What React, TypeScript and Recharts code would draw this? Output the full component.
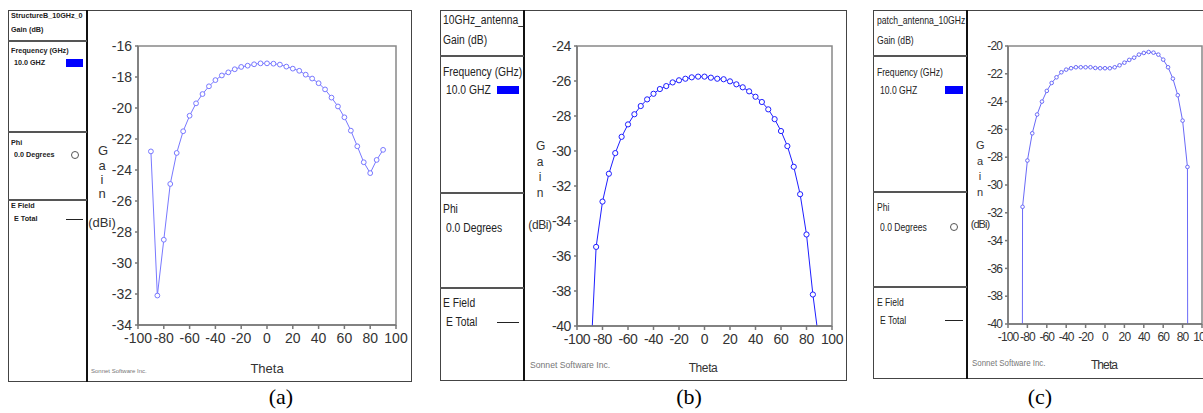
import React from 'react';
import { LineChart, Line, XAxis, YAxis, ReferenceArea } from 'recharts';

// theta sweep shared by all three cuts (degrees)
const theta = [
  -90, -85, -80, -75, -70, -65, -60, -55, -50, -45, -40, -35, -30, -25, -20, -15, -10, -5,
  0, 5, 10, 15, 20, 25, 30, 35, 40, 45, 50, 55, 60, 65, 70, 75, 80, 85, 90
];

// (a) StructureB gain, dBi
const gainA = [
  -22.8, -32.1, -28.5, -24.9, -22.9, -21.5, -20.5, -19.7, -19.1, -18.6, -18.2, -17.9, -17.7,
  -17.5, -17.35, -17.27, -17.18, -17.12, -17.12, -17.14, -17.2, -17.33, -17.46, -17.6, -17.85,
  -18.1, -18.4, -18.8, -19.33, -19.9, -20.6, -21.46, -22.47, -23.5, -24.2, -23.35, -22.7
];

// (b) 10GHz_antenna gain, dBi
const gainB = [
  -43, -35.48, -32.89, -31.3, -30.12, -29.19, -28.48, -27.9, -27.43, -27.05, -26.73, -26.46,
  -26.29, -26.08, -25.96, -25.87, -25.79, -25.75, -25.75, -25.81, -25.87, -25.9, -26.02, -26.19,
  -26.36, -26.59, -26.9, -27.2, -27.62, -28.18, -28.86, -29.72, -30.9, -32.47, -34.77, -38.2, -41
];

// (c) patch_antenna gain, dBi (endpoints fall far off the bottom)
const gainC = [
  -300, -31.57, -28.24, -26.28, -24.93, -24.0, -23.23, -22.66, -22.25, -21.89, -21.7, -21.6,
  -21.53, -21.53, -21.53, -21.53, -21.58, -21.6, -21.6, -21.6, -21.53, -21.39, -21.2, -21.0,
  -20.84, -20.62, -20.5, -20.43, -20.48, -20.62, -20.98, -21.53, -22.35, -23.54, -25.37, -28.7, -300
];

const thetaTicks = [-100, -80, -60, -40, -20, 0, 20, 40, 60, 80, 100];
const ticksA = [-34, -32, -30, -28, -26, -24, -22, -20, -18, -16];
const ticksB = [-40, -38, -36, -34, -32, -30, -28, -26, -24];
const ticksC = [-40, -38, -36, -34, -32, -30, -28, -26, -24, -22, -20];

const titles = ['StructureB_10GHz_0', '10GHz_antenna_', 'patch_antenna_10GHz'];
const captions = ['(a)', '(b)', '(c)'];

const SANS = '"Liberation Sans", Arial, sans-serif';

type Box = { l: number; t: number; r: number; b: number };

type PanelProps = {
  frame: Box;
  divider: number;
  hlines: number[];
  plot: Box;
  title: string;
  values: number[];
  yTicks: number[];
  color: string;
  dotR: number;
  tickFont: number;
  tickSpacing: number;
  legendFont: number;
  legendScale: number;
  legendBold: boolean;
  legendRows: number[]; // y of: title, gain, freq, 10GHz, phi, deg, efield, etotal
  legendX: number;
  swatchX: number;
  swatchW: number;
  phiCircle: boolean;
  ylabel: { x: number; ys: number[]; dbi: number; size: number };
  thetaPos: { x: number; y: number; size: number };
  sonnet: { x: number; y: number; size: number };
};

const T = (x: number, y: number, size: number, text: string, style: React.CSSProperties = {}) => (
  <div
    style={{
      position: 'absolute',
      left: x,
      top: y - size / 2,
      fontSize: size,
      lineHeight: `${size}px`,
      whiteSpace: 'nowrap',
      ...style
    }}
  >
    {text}
  </div>
);

const Panel = (p: PanelProps) => {
  const data = theta.map((t, i) => ({ theta: t, gain: p.values[i] }));
  const chartLeft = p.divider + 1;
  const chartTop = p.frame.t + 1;
  const chartW = p.frame.r - chartLeft;
  const chartH = p.frame.b - chartTop;
  const xH = 30;
  const lf: React.CSSProperties = {
    fontFamily: SANS,
    fontWeight: p.legendBold ? 700 : 400,
    color: '#222',
    transform: `scaleX(${p.legendScale})`,
    transformOrigin: 'left center'
  };
  const rows = p.legendRows;
  const lx = p.legendX - p.frame.l;
  const tickStyle = {
    fill: '#333',
    fontSize: p.tickFont,
    fontFamily: SANS,
    letterSpacing: p.tickSpacing
  };

  return (
    <>
      {/* outer frame */}
      <div
        style={{
          position: 'absolute',
          left: p.frame.l,
          top: p.frame.t,
          width: p.frame.r - p.frame.l,
          height: p.frame.b - p.frame.t,
          border: '1px solid #444',
          boxSizing: 'border-box'
        }}
      />
      {/* legend column */}
      <div
        style={{
          position: 'absolute',
          left: p.frame.l,
          top: p.frame.t,
          width: p.divider - p.frame.l,
          height: p.frame.b - p.frame.t,
          overflow: 'hidden'
        }}
      >
        {T(lx, rows[0] - p.frame.t, p.legendFont, p.title, lf)}
        {T(lx, rows[1] - p.frame.t, p.legendFont, 'Gain (dB)', lf)}
        {T(lx, rows[2] - p.frame.t, p.legendFont, 'Frequency (GHz)', lf)}
        {T(lx + 3, rows[3] - p.frame.t, p.legendFont, '10.0 GHZ', lf)}
        {T(lx, rows[4] - p.frame.t, p.legendFont, 'Phi', lf)}
        {T(lx + 3, rows[5] - p.frame.t, p.legendFont, '0.0 Degrees', lf)}
        {T(lx, rows[6] - p.frame.t, p.legendFont, 'E Field', lf)}
        {T(lx + 3, rows[7] - p.frame.t, p.legendFont, 'E Total', lf)}
      </div>
      {/* legend swatches */}
      <div
        style={{
          position: 'absolute',
          left: p.swatchX,
          top: rows[3] - 4,
          width: p.swatchW,
          height: 8,
          background: '#0000ff'
        }}
      />
      {p.phiCircle && (
        <div
          style={{
            position: 'absolute',
            left: p.swatchX + p.swatchW / 2 - 4,
            top: rows[5] - 4,
            width: 8,
            height: 8,
            borderRadius: '50%',
            border: '1px solid #555',
            boxSizing: 'border-box'
          }}
        />
      )}
      <div
        style={{
          position: 'absolute',
          left: p.swatchX,
          top: rows[7],
          width: p.swatchW,
          height: 1,
          background: '#222'
        }}
      />
      {/* legend dividers */}
      <div
        style={{
          position: 'absolute',
          left: p.divider - 1,
          top: p.frame.t,
          width: 2,
          height: p.frame.b - p.frame.t,
          background: '#111'
        }}
      />
      {p.hlines.map((y) => (
        <div
          key={y}
          style={{
            position: 'absolute',
            left: p.frame.l,
            top: y,
            width: p.divider - p.frame.l,
            height: 1.5,
            background: '#555'
          }}
        />
      ))}

      <div style={{ position: 'absolute', left: chartLeft, top: chartTop }}>
        <LineChart
          width={chartW}
          height={chartH}
          data={data}
          margin={{
            top: p.plot.t - chartTop,
            right: chartLeft + chartW - p.plot.r,
            left: 0,
            bottom: chartTop + chartH - p.plot.b - xH
          }}
        >
          <XAxis
            type="number"
            dataKey="theta"
            domain={[-100, 100]}
            ticks={thetaTicks}
            interval={0}
            height={xH}
            stroke="#777"
            strokeWidth={1.5}
            tickSize={4}
            tickMargin={4}
            tick={tickStyle}
          />
          <YAxis
            type="number"
            domain={[p.yTicks[0], p.yTicks[p.yTicks.length - 1]]}
            ticks={p.yTicks}
            interval={0}
            allowDataOverflow
            width={p.plot.l - chartLeft}
            stroke="#777"
            strokeWidth={1.5}
            tickSize={3}
            tickMargin={3}
            tick={tickStyle}
          />
          <ReferenceArea
            x1={-100}
            x2={100}
            y1={p.yTicks[0]}
            y2={p.yTicks[p.yTicks.length - 1]}
            fill="none"
            stroke="#888"
            strokeWidth={1.5}
          />
          <Line
            type="linear"
            dataKey="gain"
            stroke={p.color}
            strokeWidth={1}
            dot={{ r: p.dotR, fill: '#fff', stroke: p.color, strokeWidth: 1 }}
            isAnimationActive={false}
          />
        </LineChart>
      </div>

      {/* axis labels */}
      {['G', 'a', 'i', 'n'].map((ch, i) =>
        T(p.ylabel.x - 4, p.ylabel.ys[i], p.ylabel.size, ch, {
          fontFamily: SANS,
          color: '#333',
          width: 8,
          textAlign: 'center'
        })
      )}
      {T(p.ylabel.x - 14, p.ylabel.dbi, p.ylabel.size, '(dBi)', {
        fontFamily: SANS,
        color: '#333',
        width: 28,
        textAlign: 'center',
        letterSpacing: p.tickSpacing
      })}
      {T(p.thetaPos.x - 30, p.thetaPos.y, p.thetaPos.size, 'Theta', {
        fontFamily: SANS,
        color: '#333',
        width: 60,
        textAlign: 'center',
        letterSpacing: p.tickSpacing
      })}
      {T(p.sonnet.x, p.sonnet.y, p.sonnet.size, 'Sonnet Software Inc.', {
        fontFamily: SANS,
        color: '#777',
        transform: `scaleX(${Math.min(1, p.legendScale + 0.1)})`,
        transformOrigin: 'left center'
      })}
    </>
  );
};

const App = () => {
  return (
    <div
      style={{
        position: 'absolute',
        left: 0,
        top: 0,
        width: 1203,
        height: 413,
        overflow: 'hidden',
        background: '#fff'
      }}
    >
      <Panel
        frame={{ l: 8, t: 10, r: 412, b: 382 }}
        divider={87}
        hlines={[40, 131, 199]}
        plot={{ l: 138, t: 46, r: 396, b: 325 }}
        title={titles[0]}
        values={gainA}
        yTicks={ticksA}
        color="#7878ff"
        dotR={2.4}
        tickFont={14}
        tickSpacing={0}
        legendFont={8}
        legendScale={0.9}
        legendBold
        legendRows={[16, 30, 51, 63, 143, 155, 206, 219]}
        legendX={11}
        swatchX={66}
        swatchW={17}
        phiCircle
        ylabel={{ x: 102, ys: [150, 165, 179, 193], dbi: 222, size: 13 }}
        thetaPos={{ x: 267, y: 368, size: 13 }}
        sonnet={{ x: 91, y: 371, size: 6 }}
      />
      <Panel
        frame={{ l: 440, t: 10, r: 847, b: 381 }}
        divider={524}
        hlines={[55, 192, 287]}
        plot={{ l: 577, t: 46, r: 832, b: 326 }}
        title={titles[1]}
        values={gainB}
        yTicks={ticksB}
        color="#1e1eff"
        dotR={2.6}
        tickFont={14}
        tickSpacing={-0.4}
        legendFont={12}
        legendScale={0.86}
        legendBold={false}
        legendRows={[20, 40, 72, 90, 209, 228, 303, 322]}
        legendX={443}
        swatchX={497}
        swatchW={22}
        phiCircle={false}
        ylabel={{ x: 540, ys: [146, 162, 177, 193], dbi: 225, size: 12 }}
        thetaPos={{ x: 703, y: 368, size: 12 }}
        sonnet={{ x: 530, y: 365, size: 9 }}
      />
      <Panel
        frame={{ l: 873, t: 10, r: 1230, b: 379 }}
        divider={967}
        hlines={[55, 191, 286]}
        plot={{ l: 1008, t: 46, r: 1202, b: 324 }}
        title={titles[2]}
        values={gainC}
        yTicks={ticksC}
        color="#6a6af8"
        dotR={1.8}
        tickFont={12}
        tickSpacing={-0.9}
        legendFont={11}
        legendScale={0.78}
        legendBold={false}
        legendRows={[20, 40, 72, 90, 207, 227, 302, 320]}
        legendX={877}
        swatchX={945}
        swatchW={18}
        phiCircle
        ylabel={{ x: 980, ys: [145, 161, 176, 192], dbi: 224, size: 11 }}
        thetaPos={{ x: 1104, y: 365, size: 12 }}
        sonnet={{ x: 972, y: 363, size: 9 }}
      />
      {captions.map((c, i) =>
        T([281, 689, 1040][i] - 20, 397, 22, c, {
          fontFamily: '"Liberation Serif", "Times New Roman", serif',
          width: 40,
          textAlign: 'center',
          color: '#000'
        })
      )}
    </div>
  );
};

export default App;
